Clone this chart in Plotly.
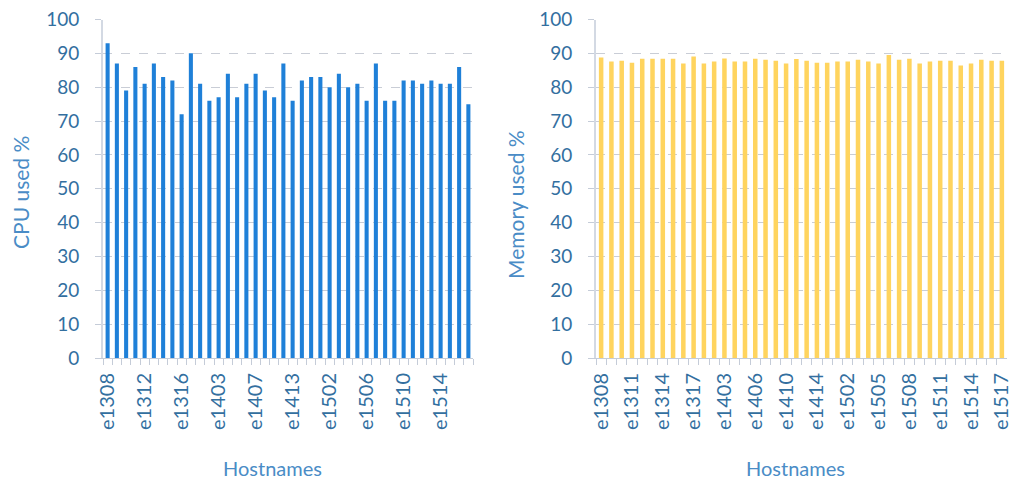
import plotly.graph_objects as go

hosts = ["e1308", "e1309", "e1310", "e1311", "e1312", "e1313", "e1314", "e1315",
         "e1316", "e1317", "e1401", "e1402", "e1403", "e1404", "e1405", "e1406",
         "e1407", "e1409", "e1410", "e1412", "e1413", "e1414", "e1415", "e1501",
         "e1502", "e1503", "e1504", "e1505", "e1506", "e1507", "e1508", "e1509",
         "e1510", "e1511", "e1512", "e1513", "e1514", "e1515", "e1516", "e1517"]

cpu_used = [93, 87, 79, 86, 81, 87, 83, 82, 72, 90,
            81, 76, 77, 84, 77, 81, 84, 79, 77, 87,
            76, 82, 83, 83, 80, 84, 80, 81, 76, 87,
            76, 76, 82, 82, 81, 82, 81, 81, 86, 75]

mem_used = [88.8, 87.6, 87.8, 87.2, 88.4, 88.4, 88.4, 88.4, 87.0, 89.1,
            87.0, 87.6, 88.5, 87.6, 87.6, 88.4, 88.1, 87.8, 87.0, 88.3,
            87.8, 87.2, 87.2, 87.6, 87.6, 88.1, 87.6, 87.0, 89.5, 88.1,
            88.4, 87.0, 87.6, 87.8, 87.8, 86.4, 87.0, 88.1, 87.8, 87.8]

y_ticks = [0, 10, 20, 30, 40, 50, 60, 70, 80, 90, 100]
cpu_label_step = 4
mem_label_step = 3

FONT = "Lato, 'Open Sans', sans-serif"
TICK_COLOR = "#336f9f"
TITLE_COLOR = "#4a8cc6"
AXIS_LINE = "#d3d9e3"
GRID = "#c9cdd6"

cpu_text = [h if i % cpu_label_step == 0 else "" for i, h in enumerate(hosts)]
mem_text = [h if i % mem_label_step == 0 else "" for i, h in enumerate(hosts)]

fig = go.Figure()
fig.add_trace(go.Bar(x=hosts, y=cpu_used, marker=dict(color="#1f80d8", line=dict(width=0)),
                     xaxis="x", yaxis="y", showlegend=False))
fig.add_trace(go.Bar(x=hosts, y=mem_used, marker=dict(color="#ffd45e", line=dict(width=0)),
                     xaxis="x2", yaxis="y2", showlegend=False))

W, H = 1014, 485
ydom = [(H - 358) / H, (H - 19.5) / H]

def xaxis_cfg(domain, ticktext, anchor):
    return dict(domain=domain, anchor=anchor, type="category", automargin=False,
                tickmode="array", tickvals=hosts, ticktext=ticktext,
                tickson="boundaries", ticks="outside", ticklen=6, tickwidth=1,
                tickcolor="#c5ccd8", tickangle=-90,
                tickfont=dict(family=FONT, size=20, color=TICK_COLOR),
                ticklabelstandoff=6,
                showline=True, linecolor="#c5ccd8", linewidth=1,
                showgrid=False, zeroline=False, range=[-0.5, len(hosts) - 0.5],
                fixedrange=True)

def yaxis_cfg(anchor):
    return dict(domain=ydom, anchor=anchor, range=[0, 100], tickmode="array",
                automargin=False,
                tickvals=y_ticks, ticks="outside", ticklen=6, tickwidth=1,
                tickcolor="#c5ccd8",
                tickfont=dict(family=FONT, size=19, color=TICK_COLOR),
                ticklabelstandoff=12,
                showline=True, linecolor=AXIS_LINE, linewidth=2,
                showgrid=True, gridcolor=GRID, griddash="dash", gridwidth=1,
                zeroline=False, fixedrange=True)

fig.update_layout(
    width=W, height=H,
    margin=dict(l=0, r=0, t=0, b=0, autoexpand=False),
    paper_bgcolor="white", plot_bgcolor="white",
    bargap=0.56,
    font=dict(family=FONT, color=TICK_COLOR),
    xaxis=xaxis_cfg([103 / W, 473 / W], cpu_text, "y"),
    yaxis=yaxis_cfg("x"),
    xaxis2=xaxis_cfg([596 / W, 1007 / W], mem_text, "y2"),
    yaxis2=yaxis_cfg("x2"),
    annotations=[
        dict(text="CPU used %", x=20 / W, y=(H - 193) / H, xref="paper", yref="paper",
             textangle=-90, showarrow=False, xanchor="center", yanchor="middle",
             font=dict(family=FONT, size=21, color=TITLE_COLOR)),
        dict(text="Hostnames", x=272 / W, y=(H - 468) / H, xref="paper", yref="paper",
             showarrow=False, xanchor="center", yanchor="middle",
             font=dict(family=FONT, size=20, color=TITLE_COLOR)),
        dict(text="Memory used %", x=515 / W, y=(H - 205) / H, xref="paper", yref="paper",
             textangle=-90, showarrow=False, xanchor="center", yanchor="middle",
             font=dict(family=FONT, size=21, color=TITLE_COLOR)),
        dict(text="Hostnames", x=795 / W, y=(H - 468) / H, xref="paper", yref="paper",
             showarrow=False, xanchor="center", yanchor="middle",
             font=dict(family=FONT, size=20, color=TITLE_COLOR)),
    ],
)

fig.write_html("out.html")
